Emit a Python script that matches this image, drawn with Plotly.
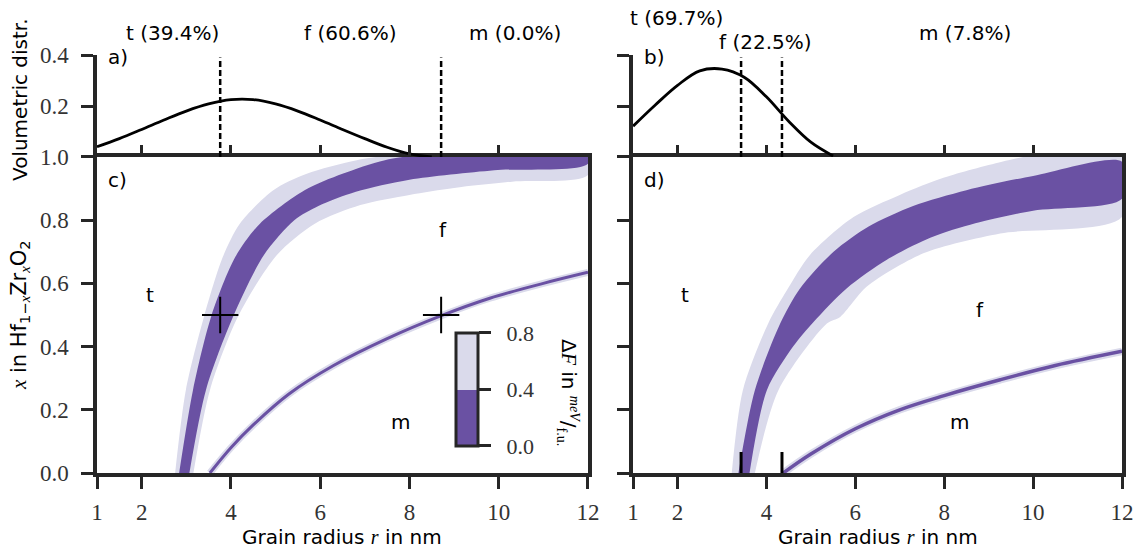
import plotly.graph_objects as go

# ---------------- data ----------------
# volumetric grain-size distributions (panels a, b)
r_a = [1.0, 1.5, 2.0, 2.5, 3.0, 3.5, 4.0, 4.5, 5.0, 5.5, 6.0, 6.5, 7.0, 7.5, 8.0, 8.5]
vol_a = [0.040, 0.072, 0.108, 0.145, 0.180, 0.208, 0.225, 0.225, 0.208, 0.180, 0.145, 0.108, 0.072, 0.038, 0.012, 0.000]
r_b = [1.0, 1.5, 2.0, 2.5, 3.0, 3.5, 4.0, 4.5, 5.0, 5.5]
vol_b = [0.121, 0.204, 0.281, 0.338, 0.345, 0.313, 0.236, 0.140, 0.058, 0.004]

# phase-transition radii at x = 0.5 (a, c) and x = 0.0 (b, d)
trans_a = [3.76, 8.71]
trans_b = [3.43, 4.35]
trans_top = 0.39
cross_x_c = [3.76, 8.71]
cross_y_c = [0.5, 0.5]
mark_y_d = [0.0, 0.0]

phases = ["t", "f", "m"]
pct_a = [39.4, 60.6, 0.0]
pct_b = [69.7, 22.5, 7.8]

# t/f boundary bands, panel c  (outer: dF<0.8, inner: dF<0.4)
c_lu_x = [2.75, 2.99, 3.40, 3.82, 4.20, 4.95, 5.70, 6.82, 8.5, 12.0]
c_lu_y = [0.0, 0.262, 0.496, 0.684, 0.789, 0.895, 0.947, 0.990, 1.02, 1.05]
c_ll_x = [3.16, 3.53, 4.16, 5.03, 5.88, 6.90, 8.0, 9.0, 10.3, 12.0]
c_ll_y = [0.0, 0.262, 0.495, 0.690, 0.789, 0.848, 0.880, 0.902, 0.922, 0.943]
c_du_x = [2.84, 3.15, 3.56, 4.10, 4.65, 5.65, 6.50, 7.45, 9.0, 12.0]
c_du_y = [0.0, 0.262, 0.496, 0.684, 0.789, 0.895, 0.947, 0.990, 1.02, 1.05]
c_dl_x = [3.07, 3.44, 4.05, 4.74, 5.42, 5.96, 6.80, 8.0, 9.9, 12.0]
c_dl_y = [0.0, 0.262, 0.495, 0.690, 0.800, 0.845, 0.890, 0.928, 0.958, 0.979]
# f/m boundary, panel c
c_m_x = [3.53, 4.0, 4.5, 5.3, 6.3, 7.5, 8.7, 9.8, 11.0, 12.0]
c_m_y = [0.0, 0.080, 0.152, 0.250, 0.340, 0.425, 0.497, 0.553, 0.600, 0.635]

# t/f boundary bands, panel d
d_lu_x = [3.22, 3.47, 4.04, 4.46, 4.98, 5.96, 7.0, 8.0, 9.3, 10.5, 12.0]
d_lu_y = [0.0, 0.262, 0.473, 0.578, 0.690, 0.810, 0.880, 0.935, 0.985, 1.02, 1.05]
d_ll_x = [3.74, 4.27, 5.36, 5.66, 6.26, 7.53, 9.26, 12.0]
d_ll_y = [0.0, 0.262, 0.473, 0.494, 0.590, 0.695, 0.758, 0.810]
d_du_x = [3.37, 3.74, 4.31, 4.76, 5.51, 6.3, 7.3, 8.5, 10.0, 12.0]
d_du_y = [0.0, 0.262, 0.473, 0.585, 0.700, 0.780, 0.845, 0.895, 0.940, 0.985]
d_dl_x = [3.62, 4.01, 4.6, 5.06, 5.81, 6.71, 7.7, 8.7, 10.0, 12.0]
d_dl_y = [0.0, 0.262, 0.400, 0.478, 0.585, 0.675, 0.745, 0.790, 0.830, 0.868]
# f/m boundary, panel d
d_m_x = [4.38, 5.0, 6.0, 7.0, 8.0, 9.26, 10.5, 12.0]
d_m_y = [0.0, 0.060, 0.140, 0.200, 0.245, 0.295, 0.340, 0.385]

x_ticks = [1, 2, 4, 6, 8, 10, 12]
y_ticks = [0.0, 0.2, 0.4, 0.6, 0.8, 1.0]
dist_ticks = [0.2, 0.4]
cb_ticks = [0.0, 0.4, 0.8]

# ---------------- style ----------------
DARK = "#6a51a3"
LIGHT = "#dadaeb"
SPINE = "#262626"
SANS = "DejaVu Sans"
SERIF = "Liberation Serif"
LW = 3.5

fig = go.Figure()


def band(xu, yu, xl, yl, color, xa, ya):
    fig.add_trace(go.Scatter(
        x=list(xu) + list(xl[::-1]), y=list(yu) + list(yl[::-1]),
        mode="lines", fill="toself", fillcolor=color,
        line=dict(width=0, color=color, shape="spline", smoothing=0.8),
        xaxis=xa, yaxis=ya, showlegend=False, hoverinfo="skip"))


def mline(xs, ys, xa, ya, w):
    fig.add_trace(go.Scatter(x=xs, y=ys, mode="lines",
                             line=dict(color=LIGHT, width=w + 4, shape="spline"),
                             xaxis=xa, yaxis=ya, showlegend=False))
    fig.add_trace(go.Scatter(x=xs, y=ys, mode="lines",
                             line=dict(color=DARK, width=w, shape="spline"),
                             xaxis=xa, yaxis=ya, showlegend=False))


# panel c
band(c_lu_x, c_lu_y, c_ll_x, c_ll_y, LIGHT, "x", "y")
band(c_du_x, c_du_y, c_dl_x, c_dl_y, DARK, "x", "y")
mline(c_m_x, c_m_y, "x", "y", 3)
fig.add_trace(go.Scatter(x=cross_x_c, y=cross_y_c, mode="markers",
                         marker=dict(symbol="cross-thin", size=26,
                                     line=dict(width=2, color="black")),
                         xaxis="x", yaxis="y", showlegend=False))

# panel d
band(d_lu_x, d_lu_y, d_ll_x, d_ll_y, LIGHT, "x3", "y3")
band(d_du_x, d_du_y, d_dl_x, d_dl_y, DARK, "x3", "y3")
mline(d_m_x, d_m_y, "x3", "y3", 3.5)
fig.add_trace(go.Scatter(x=trans_b, y=mark_y_d, mode="markers",
                         marker=dict(symbol="line-ns", size=30,
                                     line=dict(width=3, color="black")),
                         xaxis="x3", yaxis="y3", showlegend=False, cliponaxis=True))

# panels a, b: distributions and dashed transition lines
for rr, vol, trans, xa, ya in [(r_a, vol_a, trans_a, "x2", "y2"), (r_b, vol_b, trans_b, "x4", "y4")]:
    fig.add_trace(go.Scatter(x=rr, y=vol, mode="lines",
                             line=dict(color="black", width=2.8, shape="spline"),
                             xaxis=xa, yaxis=ya, showlegend=False))
    for t in trans:
        fig.add_trace(go.Scatter(x=[t, t], y=[0, trans_top], mode="lines",
                                 line=dict(color="black", width=2.5, dash="6px,3px"),
                                 xaxis=xa, yaxis=ya, showlegend=False))

# colour bar (dummy trace)
fig.add_trace(go.Scatter(
    x=[None], y=[None], mode="markers", xaxis="x", yaxis="y", showlegend=False,
    marker=dict(color=[0.2], cmin=0, cmax=0.8, showscale=True,
                colorscale=[[0, DARK], [0.5, DARK], [0.5, LIGHT], [1, LIGHT]],
                colorbar=dict(x=0.3505, xanchor="left", xpad=0, ypad=0,
                              y=0.2, yanchor="middle", lenmode="pixels", len=113,
                              thickness=22, outlinewidth=3, outlinecolor=SPINE,
                              tickvals=cb_ticks,
                              ticktext=["\u00a0\u00a0" + f"{v:.1f}" for v in cb_ticks],
                              ticks="outside", ticklen=12, tickwidth=2.5,
                              tickcolor=SPINE,
                              tickfont=dict(family=SERIF, size=22, color="#333")))))

# ---------------- axes ----------------
DOM_L = [0.0, 0.479]
DOM_R = [0.523, 1.0]
DOM_BOT = [0.0, 0.756]
DOM_TOP = [0.756, 1.0]

tickfont = dict(family=SERIF, size=23, color="#333")
common_x = dict(range=[1, 12], tickvals=x_ticks, showgrid=False, zeroline=False,
                ticklen=12, tickwidth=2.5, tickcolor=SPINE)
box = dict(showline=True, linewidth=LW, linecolor=SPINE, mirror=True)

fig.update_layout(
    width=1136, height=551,
    margin=dict(l=97, r=14, t=55, b=78, autoexpand=False),
    paper_bgcolor="white", plot_bgcolor="white",
    xaxis=dict(domain=DOM_L, anchor="y", ticks="outside", tickfont=tickfont,
               ticktext=[str(v) for v in x_ticks], ticklabelstandoff=4, **common_x, **box),
    yaxis=dict(domain=DOM_BOT, anchor="x", range=[0, 1], tickvals=y_ticks,
               ticktext=[f"{v:.1f}" for v in y_ticks], ticks="outside", ticklen=12,
               tickwidth=2.5, tickcolor=SPINE, tickfont=tickfont, ticklabelstandoff=8,
               showgrid=False, zeroline=False, **box),
    xaxis2=dict(domain=DOM_L, anchor="y2", ticks="inside", showticklabels=False,
                showline=False, **common_x),
    yaxis2=dict(domain=DOM_TOP, anchor="x2", range=[0, 0.4], tickvals=dist_ticks,
                ticktext=[f"{v:.1f}" for v in dist_ticks], ticks="outside", ticklen=12,
                tickwidth=2.5, tickcolor=SPINE, tickfont=tickfont, ticklabelstandoff=8,
                showgrid=False, zeroline=False, showline=True, linewidth=LW, linecolor=SPINE),
    xaxis3=dict(domain=DOM_R, anchor="y3", ticks="outside", tickfont=tickfont,
                ticktext=[str(v) for v in x_ticks], ticklabelstandoff=4, **common_x, **box),
    yaxis3=dict(domain=DOM_BOT, anchor="x3", range=[0, 1], tickvals=y_ticks,
                ticks="outside", ticklen=12, tickwidth=2.5, tickcolor=SPINE,
                showticklabels=False, showgrid=False, zeroline=False, **box),
    xaxis4=dict(domain=DOM_R, anchor="y4", ticks="inside", showticklabels=False,
                showline=False, **common_x),
    yaxis4=dict(domain=DOM_TOP, anchor="x4", range=[0, 0.4], tickvals=dist_ticks,
                ticks="outside", ticklen=12, tickwidth=2.5, tickcolor=SPINE,
                showticklabels=False, showgrid=False, zeroline=False,
                showline=True, linewidth=LW, linecolor=SPINE),
)

# ---------------- text ----------------
lab = dict(family=SANS, size=20, color="black")
C = dict(xanchor="center", yanchor="middle", showarrow=False)
ann = []
math = f'<span style="font-family:{SERIF}"><i>'
end = '</i></span>'


def px2x(px):
    return (px - 97) / 1025


def py2y(py):
    return (473 - py) / 418


# axis titles
ann.append(dict(text="Volumetric distr.", xref="paper", yref="paper", x=px2x(20), y=py2y(100),
                textangle=-90, font=lab, **C))
ann.append(dict(text=f"{math}x{end} in Hf<sub>1−{math}x{end}</sub>Zr<sub>{math}x{end}</sub>O<sub>2</sub>",
                xref="paper", yref="paper", x=px2x(20), y=py2y(315),
                textangle=-90, font=dict(family=SANS, size=21, color="black"), **C))
for px in [342, 878]:
    ann.append(dict(text=f"Grain radius {math}r{end} in nm", xref="paper", yref="paper",
                    x=px2x(px), y=py2y(537), font=lab, **C))

# colour bar title
ann.append(dict(text=f"Δ{math}F{end} in <sup>{math}meV{end}</sup>/<sub><span style=\"font-family:{SERIF}\">f.u.</span></sub>",
                xref="paper", yref="paper", x=px2x(568), y=py2y(392), textangle=90,
                font=lab, **C))

# panel letters
for txt, px, py in [("a)", 106, 57), ("c)", 106, 180), ("b)", 642, 57), ("d)", 642, 180)]:
    ann.append(dict(text=txt, xref="paper", yref="paper", x=px2x(px), y=py2y(py),
                    xanchor="left", yanchor="middle", showarrow=False, font=lab))

# phase percentages above panels
pos_a = [(2.70, 33), (6.69, 33), (10.36, 33)]
pos_b = [(1.97, 18), (3.99, 42), (8.47, 33)]
for ph, p, (xv, py) in zip(phases, pct_a, pos_a):
    ann.append(dict(text=f"{ph} ({p:.1f}%)", xref="x2", yref="paper", x=xv,
                    y=py2y(py), font=lab, **C))
for ph, p, (xv, py) in zip(phases, pct_b, pos_b):
    ann.append(dict(text=f"{ph} ({p:.1f}%)", xref="x4", yref="paper", x=xv,
                    y=py2y(py), font=lab, **C))

# phase region labels
for ph, xv, yv in zip(phases, [2.19, 8.75, 7.79], [0.563, 0.77, 0.16]):
    ann.append(dict(text=ph, xref="x", yref="y", x=xv, y=yv, font=lab, **C))
for ph, xv, yv in zip(phases, [2.17, 8.8, 8.35], [0.563, 0.516, 0.16]):
    ann.append(dict(text=ph, xref="x3", yref="y3", x=xv, y=yv, font=lab, **C))

fig.update_layout(annotations=ann)
fig.write_html("out.html")
